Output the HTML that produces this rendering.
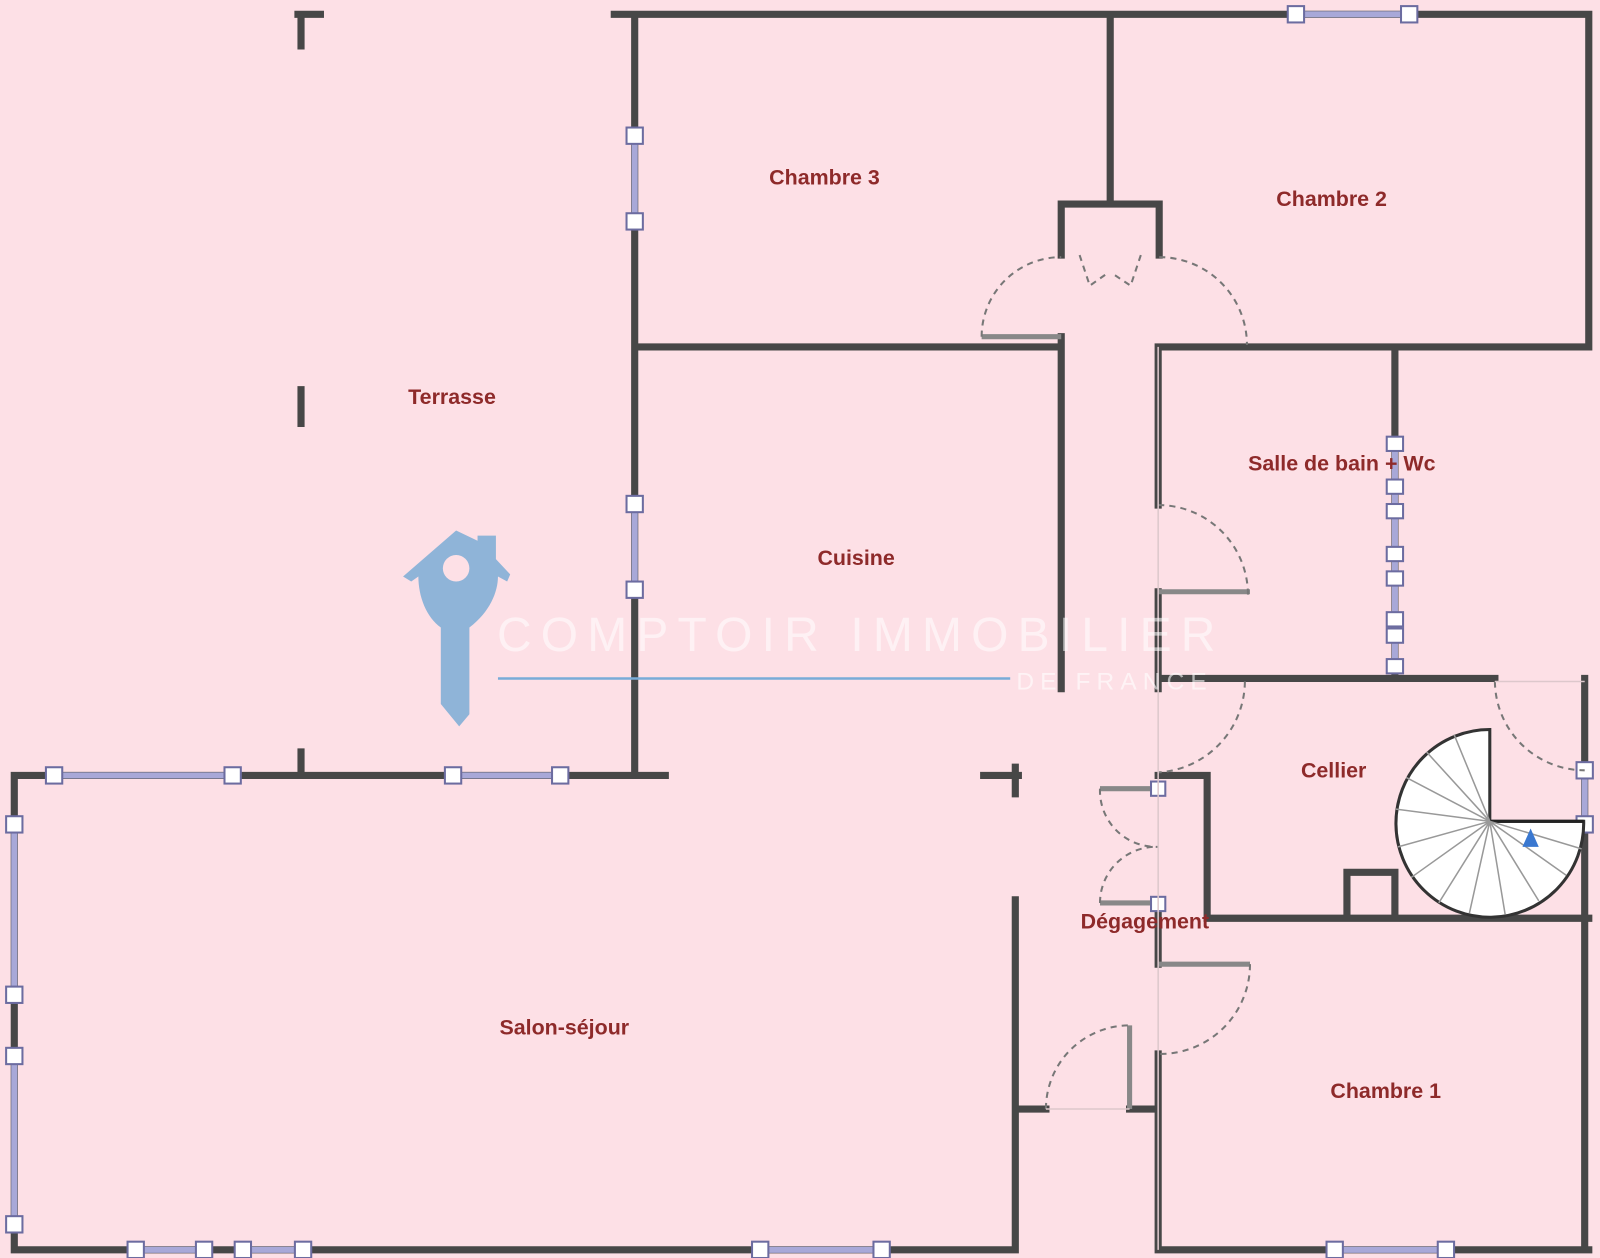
<!DOCTYPE html>
<html><head><meta charset="utf-8"><style>html,body{margin:0;padding:0;background:#fde0e6}svg{display:block}</style></head>
<body>
<svg width="1600" height="1258" viewBox="0 0 1568 1233" preserveAspectRatio="none" xmlns="http://www.w3.org/2000/svg">
<rect width="1568" height="1233" fill="#fde0e6"/>
<g stroke="#474747" stroke-width="7" fill="none" stroke-linecap="square">
<path d="M602 14H1557M622 14V760M292 14H314M295 14V45M295 382V415M295 737V760M14 760H652M14 760V1225M14 1225H995M995 882V1225M995 1087H1025M1107 1087H1135M1135 1087V1225M1135 1225H1557M1557 14V340M1553 665V1225M1088 14V200M1040 200H1136M1040 200V250M1136 200V250M622 340H1040M1040 330V675M1135 340H1557M1135 340V495M1367 340V665M1135 580V675M1135 665H1465M1135 760H1183M1183 760V900M1183 900H1557M1320 855H1367M1320 855V900M1367 855V900M1135 885V945M1135 1033V1087M964 760H998M995 752V778"/>
</g>
<g stroke="#888" stroke-width="5" fill="none">
<path d="M1107 1005V1087M1135 580H1225M1135 945H1225M962 330H1040M1078 773H1135M1078 885H1135"/>
</g>
<!-- windows -->
<g stroke="#a8a8d8" stroke-width="6">
<path d="M1270 14H1381M622 133V217M622 494V578M53 760H228M444 760H549M14 808V975M14 1035V1200M133 1225H200M238 1225H297M745 1225H864M1308 1225H1417M1553 755V808M1367 435V660"/>
</g>
<g fill="#fff" stroke="#6c6ca0" stroke-width="2">
<rect x="1262" y="6" width="16" height="16"/><rect x="1373" y="6" width="16" height="16"/>
<rect x="614" y="125" width="16" height="16"/><rect x="614" y="209" width="16" height="16"/>
<rect x="614" y="486" width="16" height="16"/><rect x="614" y="570" width="16" height="16"/>
<rect x="45" y="752" width="16" height="16"/><rect x="220" y="752" width="16" height="16"/>
<rect x="436" y="752" width="16" height="16"/><rect x="541" y="752" width="16" height="16"/>
<rect x="6" y="800" width="16" height="16"/><rect x="6" y="967" width="16" height="16"/>
<rect x="6" y="1027" width="16" height="16"/><rect x="6" y="1192" width="16" height="16"/>
<rect x="125" y="1217" width="16" height="16"/><rect x="192" y="1217" width="16" height="16"/>
<rect x="230" y="1217" width="16" height="16"/><rect x="289" y="1217" width="16" height="16"/>
<rect x="737" y="1217" width="16" height="16"/><rect x="856" y="1217" width="16" height="16"/>
<rect x="1300" y="1217" width="16" height="16"/><rect x="1409" y="1217" width="16" height="16"/>
<rect x="1545" y="747" width="16" height="16"/><rect x="1545" y="800" width="16" height="16"/>
<rect x="1359" y="428" width="16" height="14"/><rect x="1359" y="470" width="16" height="14"/><rect x="1359" y="494" width="16" height="14"/><rect x="1359" y="536" width="16" height="14"/><rect x="1359" y="560" width="16" height="14"/><rect x="1359" y="600" width="16" height="14"/><rect x="1359" y="616" width="16" height="14"/><rect x="1359" y="646" width="16" height="14"/>
<rect x="1128" y="766" width="14" height="14"/><rect x="1128" y="879" width="14" height="14"/>
</g>
<!-- doors -->
<g stroke="#777" stroke-width="2" stroke-dasharray="6 5" fill="none">
<path d="M962 330A78 78 0 0 1 1040 252"/>
<path d="M1136 252A86 86 0 0 1 1222 338"/>
<path d="M1135 495A88 88 0 0 1 1223 583"/>
<path d="M1220 668A90 90 0 0 1 1135 757"/>
<path d="M1465 668A88 88 0 0 0 1553 755"/>
<path d="M1078 773A55 55 0 0 0 1135 830M1078 885A55 55 0 0 1 1135 830"/>
<path d="M1225 945A88 88 0 0 1 1135 1033"/>
<path d="M1025 1087A82 82 0 0 1 1107 1005"/>
<path d="M1058 250L1068 280L1085 268M1118 250L1108 280L1090 268"/>
</g>
<g stroke="#ddc8cc" stroke-width="1.5"><path d="M1135 340V1225M1025 1087H1107M1465 668H1553"/></g>
<!-- staircase -->
<g>
<path d="M1460 805V715A92 92 0 1 0 1552 805Z" fill="#fff" stroke="#333" stroke-width="3"/>
<path d="M1460 805H1552" stroke="#222" stroke-width="3"/>
<g stroke="#999" stroke-width="1.5">
<path d="M1460 805L1425 720M1460 805L1398 737M1460 805L1378 762M1460 805L1368 793M1460 805L1370 830M1460 805L1383 860M1460 805L1410 885M1460 805L1440 895M1460 805L1475 896M1460 805L1508 883M1460 805L1535 858M1460 805L1550 832"/>
</g>
<path d="M1500 812l8 18h-16z" fill="#3a78d0"/>
</g>
<!-- labels -->
<g fill="#8e2a2a" font-family="Liberation Sans, sans-serif" font-size="21" font-weight="bold" text-anchor="middle">
<text x="808" y="181">Chambre 3</text>
<text x="1305" y="202">Chambre 2</text>
<text x="443" y="396">Terrasse</text>
<text x="839" y="554">Cuisine</text>
<text x="1315" y="461">Salle de bain + Wc</text>
<text x="1307" y="762">Cellier</text>
<text x="1122" y="910">Dégagement</text>
<text x="553" y="1014">Salon-séjour</text>
<text x="1358" y="1076">Chambre 1</text>
</g>
<!-- watermark -->
<g>
<path d="M447 520L395 565L403 570L410 565C410 585 418 605 432 615V690L450 712L460 700V615C480 600 488 580 488 565L497 570L500 563L486 548V525H468V530Z" fill="#8fb4d8"/>
<circle cx="447" cy="557" r="13" fill="#fde0e6"/>
<line x1="488" y1="665" x2="990" y2="665" stroke="#78acd8" stroke-width="2.5"/>
<text x="487" y="638" font-family="Liberation Sans, sans-serif" font-size="47" fill="#fff" fill-opacity="0.55" letter-spacing="9">COMPTOIR IMMOBILIER</text>
<text x="996" y="676" font-family="Liberation Sans, sans-serif" font-size="24" fill="#fff" fill-opacity="0.6" letter-spacing="6">DE FRANCE</text>
</g>
</svg>
</body></html>
